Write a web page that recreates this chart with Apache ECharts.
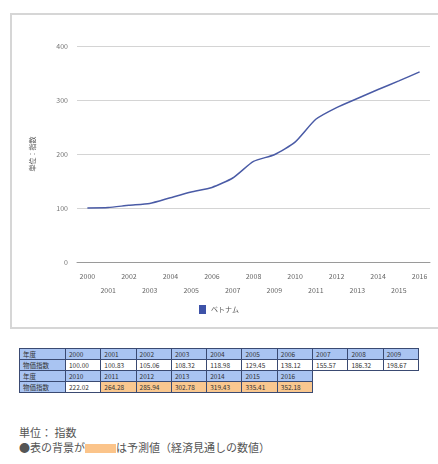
<!DOCTYPE html>
<html>
<head>
<meta charset="utf-8">
<script src="https://cdn.jsdelivr.net/npm/echarts@6/dist/echarts.min.js"></script>
<style>
  html, body { margin: 0; padding: 0; background: #fff; width: 438px; height: 464px; overflow: hidden;
    font-family: "Noto Sans CJK JP", "Noto Sans", sans-serif; -webkit-font-smoothing: antialiased; }
  #frame { position: absolute; left: 10px; top: 13px; width: 440px; height: 316px;
    border: 2px solid #d6d6d6; box-sizing: border-box; }
  #chart { position: absolute; left: 0; top: 0; width: 438px; height: 330px; }
  #tbl { position: absolute; left: 19px; top: 348px; border-collapse: collapse; table-layout: fixed;
    width: 399px; font-size: 6.5px; color: #333; }
  #tbl td { height: 10px; padding: 0 0 0 3px; line-height: 10px; white-space: nowrap; overflow: hidden; color: #333; }
  #tbl td.b { border: 1px solid #3a4a72; }
  #tbl td.h { background: #a9c4f2; }
  #tbl td.v { background: #ffffff; }
  #tbl td.f { background: #f9c78f; }
  .note { position: absolute; left: 19px; font-size: 11px; line-height: 13px; color: #555; white-space: nowrap; }
  .sw { display: inline-block; width: 31px; height: 9px; background: #fbc48a; vertical-align: -1px; }
</style>
</head>
<body>
<div id="frame"></div>
<div id="chart"></div>
<table id="tbl"><colgroup id="cols"></colgroup></table>
<div class="note" style="top:426px;">単位： 指数</div>
<div class="note" style="top:441px;">●表の背景が<span class="sw"></span>は予測値（経済見通しの数値）</div>
<script>
// 年度と物価指数（ベトナム）
const years = ['2000','2001','2002','2003','2004','2005','2006','2007','2008',
               '2009','2010','2011','2012','2013','2014','2015','2016'];
const priceIndex = [100.00, 100.83, 105.06, 108.32, 118.98, 129.45, 138.12, 155.57, 186.32,
                    198.67, 222.02, 264.28, 285.94, 302.78, 319.43, 335.41, 352.18];
// 予測値の開始年
const forecastFrom = '2011';
const yTicks = [0, 100, 200, 300, 400];
const seriesName = 'ベトナム';
const axisTitle = '単位：指数';

const chart = echarts.init(document.getElementById('chart'));
chart.setOption({
  animation: false,
  textStyle: { fontFamily: '"Noto Sans CJK JP", sans-serif' },
  grid: { left: 77, right: 8, top: 46, bottom: 68 },
  legend: {
    bottom: 11, itemWidth: 7, itemHeight: 9, icon: 'rect', itemGap: 4,
    textStyle: { fontSize: 7, color: '#555' },
    data: [seriesName]
  },
  xAxis: {
    type: 'category',
    data: years,
    axisLine: { lineStyle: { color: '#9a9a9a', width: 1 } },
    axisTick: { show: false },
    axisLabel: {
      interval: 0, fontSize: 7, color: '#666', margin: 7, lineHeight: 14,
      formatter: (v, i) => (i % 2 ? '\n' + v : v)
    }
  },
  yAxis: {
    type: 'value',
    min: yTicks[0], max: yTicks[yTicks.length - 1], interval: 100,
    name: axisTitle, nameLocation: 'middle', nameGap: 41,
    nameTextStyle: { fontSize: 7, color: '#555' },
    axisLine: { show: false },
    axisTick: { show: false },
    axisLabel: { fontSize: 7, color: '#777', margin: 9 },
    splitLine: { lineStyle: { color: '#d4d4d4', width: 1 } }
  },
  series: [{
    name: seriesName,
    type: 'line',
    data: priceIndex,
    smooth: 0.2,
    symbol: 'none',
    color: '#3d52a8',
    lineStyle: { width: 1.5, color: '#4a5ba6' }
  }]
});

// 年度・物価指数の表（10列ずつ2段）
const tbl = document.getElementById('tbl');
const cols = document.getElementById('cols');
const perRow = 10;
const keyWidth = 46, cellWidth = 35.3;
const c0 = document.createElement('col'); c0.style.width = keyWidth + 'px'; cols.appendChild(c0);
for (let i = 0; i < perRow; i++) {
  const c = document.createElement('col'); c.style.width = cellWidth + 'px'; cols.appendChild(c);
}
const fIdx = years.indexOf(forecastFrom);
function cell(tr, text, cls) {
  const td = document.createElement('td');
  td.className = cls;
  td.textContent = text;
  tr.appendChild(td);
}
for (let s = 0; s < years.length; s += perRow) {
  const trH = document.createElement('tr');
  const trV = document.createElement('tr');
  cell(trH, '年度', 'b h');
  cell(trV, '物価指数', 'b h');
  for (let i = 0; i < perRow; i++) {
    const idx = s + i;
    if (idx < years.length) {
      cell(trH, years[idx], 'b h');
      cell(trV, priceIndex[idx].toFixed(2), 'b ' + (idx >= fIdx ? 'f' : 'v'));
    } else {
      cell(trH, '', '');
      cell(trV, '', '');
    }
  }
  tbl.appendChild(trH);
  tbl.appendChild(trV);
}
</script>
</body>
</html>
